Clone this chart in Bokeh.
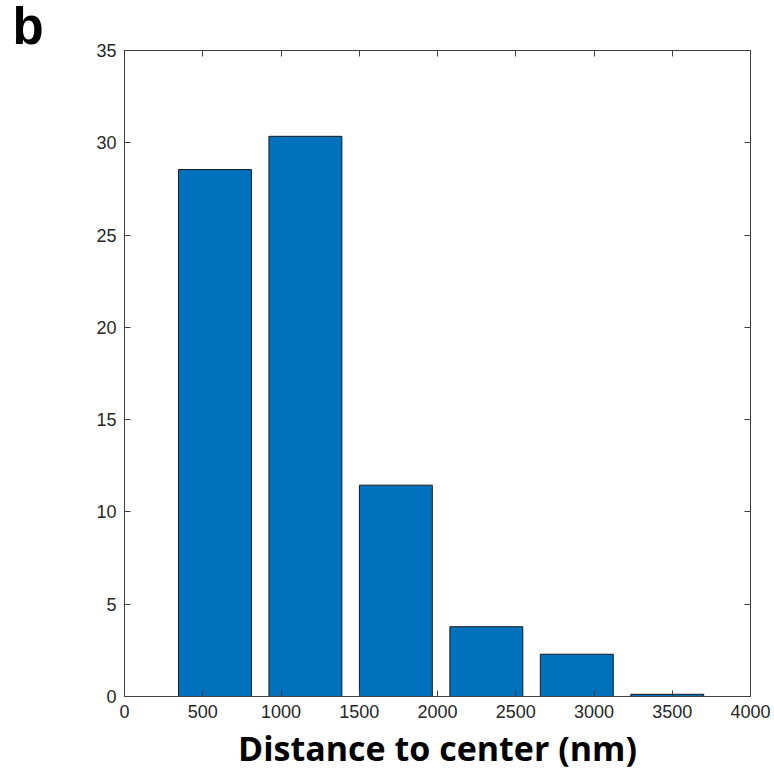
from bokeh.plotting import figure
from bokeh.models import LinearAxis, FixedTicker, Range1d
from bokeh.embed import file_html
from bokeh.resources import INLINE

# Data
bin_centers = [578, 1156, 1734, 2312, 2890, 3468]
counts = [28.55, 30.35, 11.45, 3.78, 2.29, 0.12]
bar_width = 466
x_ticks = [0, 500, 1000, 1500, 2000, 2500, 3000, 3500, 4000]
y_ticks = [0, 5, 10, 15, 20, 25, 30, 35]
x_label = "Distance to center (nm)"
panel_letter = "b"

AX = "#404040"
TICK_FONT = "Liberation Sans"

p = figure(width=774, height=779, output_backend="svg", toolbar_location=None,
           x_range=Range1d(0, 4000), y_range=Range1d(0, 35),
           min_border_left=124, min_border_right=24, min_border_top=50, min_border_bottom=83)
p.background_fill_color = "white"
p.border_fill_color = "white"
p.grid.visible = False
p.outline_line_color = AX
p.outline_line_width = 1

p.vbar(x=bin_centers, top=counts, width=bar_width, bottom=0,
       fill_color="#0072BD", line_color="#1a1a1a", line_width=1)

def style(ax, ticks, show_labels):
    ax.ticker = FixedTicker(ticks=ticks)
    ax.axis_line_color = AX
    ax.major_tick_line_color = AX
    ax.major_tick_in = 6
    ax.major_tick_out = 0
    ax.minor_tick_line_color = None
    ax.major_label_text_font = TICK_FONT
    ax.major_label_text_color = "#262626"
    ax.major_label_text_font_size = "18px"
    if not show_labels:
        ax.major_label_overrides = {t: "" for t in ticks}
        ax.major_label_standoff = 0

style(p.xaxis[0], x_ticks, True)
style(p.yaxis[0], y_ticks, True)
p.xaxis[0].major_label_standoff = 8
p.yaxis[0].major_label_standoff = 8
p.xaxis[0].axis_label = x_label
p.xaxis[0].axis_label_text_font = "Open Sans"
p.xaxis[0].axis_label_text_font_style = "bold"
p.xaxis[0].axis_label_text_font_size = "34px"
p.xaxis[0].axis_label_text_color = "black"
p.xaxis[0].axis_label_standoff = 4

right_ax = LinearAxis()
style(right_ax, y_ticks, False)
p.add_layout(right_ax, "right")

# panel letter as the figure title, shifted left of the frame
p.title.text = panel_letter
p.title.align = "left"
p.title.offset = -112
p.title.standoff = -9
p.title.text_font = "Liberation Sans"
p.title.text_font_style = "bold"
p.title.text_font_size = "51px"
p.title.text_color = "black"

top_ax = LinearAxis()
style(top_ax, x_ticks, False)
p.add_layout(top_ax, "above")

open("out.html", "w").write(file_html(p, INLINE))
